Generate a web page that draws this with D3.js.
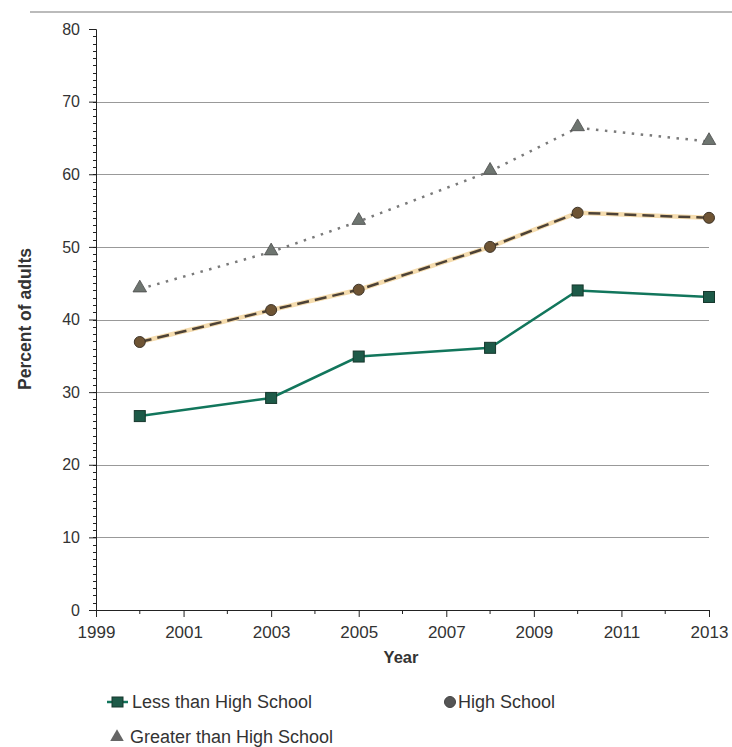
<!DOCTYPE html>
<html><head><meta charset="utf-8">
<script src="https://cdn.jsdelivr.net/npm/d3@7"></script>
<style>body{margin:0;background:#fff}svg text{font-family:"Liberation Sans",Arial,sans-serif;fill:#333}</style>
</head><body><svg id="c" width="732" height="747"></svg>
<script>
const years = [2000, 2003, 2005, 2008, 2010, 2013];
const lessThanHS = [26.7, 29.2, 34.9, 36.1, 44.0, 43.1];
const highSchool = [36.9, 41.3, 44.1, 50.0, 54.7, 54.0];
const greaterThanHS = [44.2, 49.3, 53.5, 60.4, 66.4, 64.5];
const yTicks = [0, 10, 20, 30, 40, 50, 60, 70, 80];
const xTicks = [1999, 2001, 2003, 2005, 2007, 2009, 2011, 2013];
const seriesNames = ["Less than High School", "High School", "Greater than High School"];

const svg = d3.select("#c");
const x = d3.scaleLinear().domain([1999, 2013]).range([96, 709]);
const y = d3.scaleLinear().domain([0, 80]).range([610, 29]);
const FONT = "Liberation Sans, Arial, sans-serif";

// top rule
svg.append("line").attr("x1", 30).attr("x2", 732).attr("y1", 12).attr("y2", 12).attr("stroke", "#bbb").attr("stroke-width", 2);

// gridlines
svg.append("g").selectAll("line").data(yTicks.filter(d => d > 0 && d < 80)).join("line")
  .attr("x1", x(1999)).attr("x2", x(2013)).attr("y1", d => Math.round(y(d)) + 0.5).attr("y2", d => Math.round(y(d)) + 0.5)
  .attr("stroke", "#999").attr("stroke-width", 1);

// y minor ticks
svg.append("g").selectAll("line").data(d3.range(0, 81, 1)).join("line")
  .attr("x1", x(1999) - 3).attr("x2", x(1999)).attr("y1", d => Math.round(y(d)) + 0.5).attr("y2", d => Math.round(y(d)) + 0.5)
  .attr("stroke", "#222").attr("stroke-width", 1);
// y axis
const yAx = svg.append("g").attr("transform", `translate(${x(1999)},0)`)
  .call(d3.axisLeft(y).tickValues(yTicks).tickSize(7).tickPadding(9));
yAx.select(".domain").attr("stroke", "#222");
yAx.selectAll(".tick line").attr("stroke", "#222");
yAx.selectAll("text").attr("font-size", 16).attr("fill", "#333").attr("font-family", FONT);

// x minor ticks
svg.append("g").selectAll("line").data(d3.range(2000, 2013, 2)).join("line")
  .attr("x1", d => x(d)).attr("x2", d => x(d)).attr("y1", y(0)).attr("y2", y(0) + 4)
  .attr("stroke", "#222");
const xAx = svg.append("g").attr("transform", `translate(0,${y(0)})`)
  .call(d3.axisBottom(x).tickValues(xTicks).tickFormat(d3.format("d")).tickSize(7).tickPadding(9).tickSizeOuter(0));
xAx.select(".domain").attr("stroke", "#222");
xAx.selectAll(".tick line").attr("stroke", "#222");
xAx.selectAll("text").attr("font-size", 17).attr("fill", "#333").attr("font-family", FONT);

// axis titles
svg.append("text").attr("x", 401).attr("y", 663).attr("text-anchor", "middle")
  .attr("font-size", 16.5).attr("font-weight", "bold").text("Year");
svg.append("text").attr("transform", "translate(31,319) rotate(-90)").attr("text-anchor", "middle")
  .attr("font-size", 17.5).attr("font-weight", "bold").text("Percent of adults");

const line = d3.line().x((d, i) => x(years[i])).y(d => y(d));

// Greater than HS (dotted gray)
svg.append("path").attr("d", line(greaterThanHS)).attr("fill", "none")
  .attr("stroke", "#7a7a7a").attr("stroke-width", 2.5).attr("stroke-dasharray", "2.5,6.5").attr("stroke-linecap", "butt");
// High school (dashed with tan halo)
svg.append("path").attr("d", line(highSchool)).attr("fill", "none")
  .attr("stroke", "#f5dcae").attr("stroke-width", 4.5);
svg.append("path").attr("d", line(highSchool)).attr("fill", "none")
  .attr("stroke", "#4d4236").attr("stroke-width", 2.5).attr("stroke-dasharray", "12,6");
// Less than HS (solid teal)
svg.append("path").attr("d", line(lessThanHS)).attr("fill", "none")
  .attr("stroke", "#12765c").attr("stroke-width", 2.5);

const tri = d3.symbol().type(d3.symbolTriangle).size(80);
svg.append("g").selectAll("path").data(greaterThanHS).join("path")
  .attr("d", tri).attr("transform", (d, i) => `translate(${x(years[i])},${y(d) - 1})`)
  .attr("fill", "#6e7570").attr("stroke", "#4a4a4a").attr("stroke-width", 0.8);
svg.append("g").selectAll("circle").data(highSchool).join("circle")
  .attr("cx", (d, i) => x(years[i])).attr("cy", d => y(d)).attr("r", 5.5)
  .attr("fill", "#6e5434").attr("stroke", "#3e3428").attr("stroke-width", 1);
svg.append("g").selectAll("rect").data(lessThanHS).join("rect")
  .attr("x", (d, i) => x(years[i]) - 5.5).attr("y", d => y(d) - 5.5).attr("width", 11).attr("height", 11)
  .attr("fill", "#1d5a48").attr("stroke", "#16372c").attr("stroke-width", 1);

// legend
const lg = svg.append("g");
lg.append("line").attr("x1", 107).attr("x2", 128).attr("y1", 702).attr("y2", 702).attr("stroke", "#12765c").attr("stroke-width", 2.5);
lg.append("rect").attr("x", 112).attr("y", 697).attr("width", 11).attr("height", 10).attr("fill", "#1d5a48").attr("stroke", "#16372c");
lg.append("text").attr("x", 132).attr("y", 708).attr("font-size", 18).text(seriesNames[0]);
lg.append("circle").attr("cx", 450).attr("cy", 702).attr("r", 5.5).attr("fill", "#555").attr("stroke", "#444");
lg.append("text").attr("x", 458).attr("y", 708).attr("font-size", 18).text(seriesNames[1]);
lg.append("path").attr("d", d3.symbol().type(d3.symbolTriangle).size(80)).attr("transform", "translate(117,737)").attr("fill", "#666");
lg.append("text").attr("x", 130).attr("y", 743).attr("font-size", 18).text(seriesNames[2]);
</script></body></html>
